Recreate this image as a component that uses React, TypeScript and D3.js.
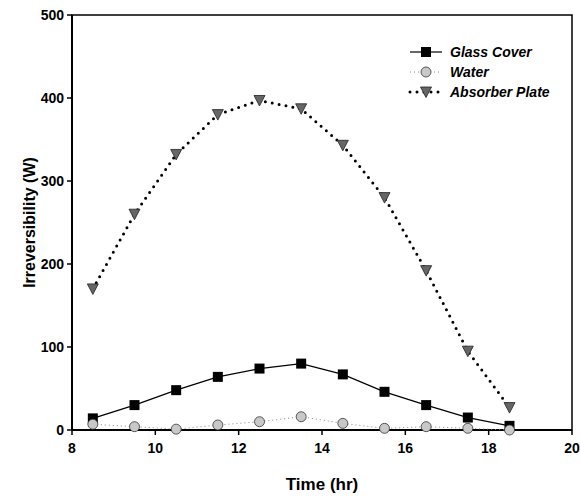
import React from "react";
import * as d3 from "d3";

const times = [8.5, 9.5, 10.5, 11.5, 12.5, 13.5, 14.5, 15.5, 16.5, 17.5, 18.5];
const glassCover = [14, 30, 48, 64, 74, 80, 67, 46, 30, 15, 5];
const water = [7, 4, 1, 6, 10, 16, 8, 2, 4, 2, 0];
const absorberPlate = [170, 260, 332, 380, 397, 387, 343, 280, 192, 95, 27];
const xTicks = [8, 10, 12, 14, 16, 18, 20];
const yTicks = [0, 100, 200, 300, 400, 500];
const seriesNames = ["Glass Cover", "Water", "Absorber Plate"];

const W = 580, H = 497;
const L = 72, R = 572, T = 15, B = 430;
const font = "Liberation Sans, Arial, sans-serif";

export default function App() {
  const x = d3.scaleLinear().domain([8, 20]).range([L, R]);
  const y = d3.scaleLinear().domain([0, 500]).range([B, T]);
  const line = d3.line<number>().x((_, i) => x(times[i])).y((d) => y(d));

  const square = (cx: number, cy: number, k: string) => (
    <rect key={k} x={cx - 5} y={cy - 5} width={10} height={10} fill="#000" />
  );
  const circle = (cx: number, cy: number, k: string) => (
    <circle key={k} cx={cx} cy={cy} r={5} fill="#c8c8c8" stroke="#333" strokeWidth={0.8} />
  );
  const tri = (cx: number, cy: number, k: string) => (
    <path key={k} d={`M${cx - 5.5},${cy - 5}L${cx + 5.5},${cy - 5}L${cx},${cy + 5.5}Z`} fill="#666" stroke="#222" strokeWidth={0.8} />
  );

  const legendRows = [
    { name: seriesNames[0], y: 52, line: { stroke: "#000", strokeWidth: 1.2 }, m: square },
    { name: seriesNames[1], y: 72, line: { stroke: "#888", strokeWidth: 1, strokeDasharray: "1 3" }, m: circle },
    { name: seriesNames[2], y: 92, line: { stroke: "#000", strokeWidth: 3, strokeDasharray: "0 7", strokeLinecap: "round" as const }, m: tri },
  ];

  return (
    <svg width={W} height={H} style={{ position: "absolute", left: 0, top: 0, background: "#fff" }}>
      <rect x={L} y={T} width={R - L} height={B - T} fill="none" stroke="#000" strokeWidth={1.5} />
      <line x1={L} x2={L} y1={T} y2={B} stroke="#000" strokeWidth={2} />
      <line x1={L} x2={R} y1={B} y2={B} stroke="#000" strokeWidth={2} />
      {yTicks.map((t) => (
        <g key={"y" + t}>
          <line x1={L - 5} x2={L} y1={y(t)} y2={y(t)} stroke="#000" strokeWidth={1.5} />
          <text x={L - 8} y={y(t) + 5} textAnchor="end" fontFamily={font} fontWeight="bold" fontSize={14}>{t}</text>
        </g>
      ))}
      {xTicks.map((t) => (
        <g key={"x" + t}>
          <line x1={x(t)} x2={x(t)} y1={B} y2={B + 5} stroke="#000" strokeWidth={1.5} />
          <text x={x(t)} y={B + 23} textAnchor="middle" fontFamily={font} fontWeight="bold" fontSize={14}>{t}</text>
        </g>
      ))}
      <text x={(L + R) / 2} y={490} textAnchor="middle" fontFamily={font} fontWeight="bold" fontSize={17}>Time (hr)</text>
      <text transform={`translate(35,${(T + B) / 2}) rotate(-90)`} textAnchor="middle" fontFamily={font} fontWeight="bold" fontSize={16}>Irreversibility (W)</text>

      <path d={line(glassCover) || ""} fill="none" stroke="#000" strokeWidth={1.2} />
      <path d={line(water) || ""} fill="none" stroke="#888" strokeWidth={1} strokeDasharray="1 3" />
      <path d={line(absorberPlate) || ""} fill="none" stroke="#000" strokeWidth={3} strokeDasharray="0 7" strokeLinecap="round" />
      {glassCover.map((v, i) => square(x(times[i]), y(v), "g" + i))}
      {water.map((v, i) => circle(x(times[i]), y(v), "w" + i))}
      {absorberPlate.map((v, i) => tri(x(times[i]), y(v), "a" + i))}

      {legendRows.map((r) => (
        <g key={r.name}>
          <line x1={410} x2={442} y1={r.y} y2={r.y} {...r.line} />
          {r.m(426, r.y, "lm" + r.name)}
          <text x={450} y={r.y + 5} fontFamily={font} fontWeight="bold" fontStyle="italic" fontSize={14}>{r.name}</text>
        </g>
      ))}
    </svg>
  );
}
